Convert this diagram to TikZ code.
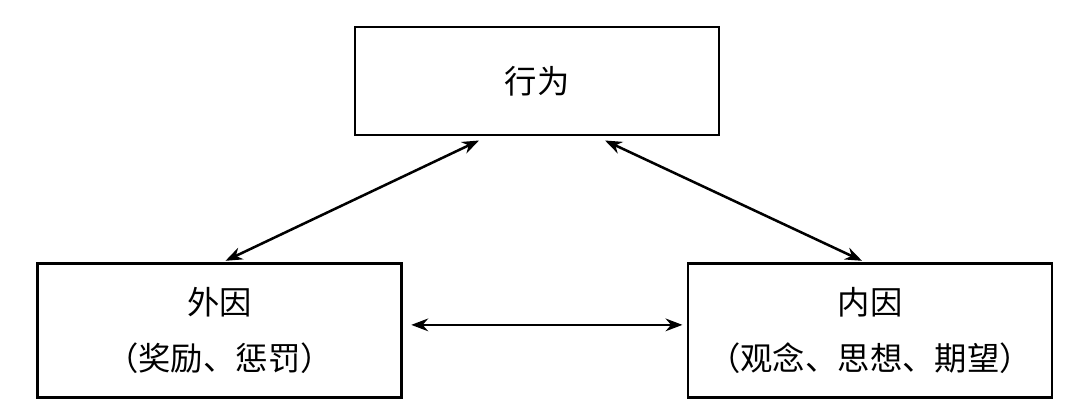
\documentclass[tikz,border=0pt]{standalone}
\usepackage{fontspec}
\setmainfont{Noto Sans CJK SC}
\usetikzlibrary{arrows.meta}
\begin{document}
\begin{tikzpicture}[x=0.025cm,y=-0.025cm,
  box/.style={draw,line width=1.8pt,minimum width=9.1cm,inner sep=0pt,align=center,font=\fontsize{23}{40}\selectfont},
  link/.style={{Stealth[length=12pt,width=9pt]}-{Stealth[length=12pt,width=9pt]},line width=1.8pt}]
\useasboundingbox (0,0) rectangle (1091,420);

\node[box,minimum height=2.7cm] (act) at (537,81) {行为};
\node[box,minimum height=3.35cm] (ext) at (219.5,330.5) {外因\\（奖励、惩罚）};
\node[box,minimum height=3.35cm] (int) at (870,330.5) {内因\\（观念、思想、期望）};

\draw[link] ([xshift=-1.45cm,yshift=-3pt]act.south) -- ([xshift=0.15cm,yshift=1pt]ext.north);
\draw[link] ([xshift=1.7cm,yshift=-3pt]act.south) -- ([xshift=-0.2cm,yshift=1pt]int.north);
\draw[link] ([xshift=6pt,yshift=4pt]ext.east) -- ([xshift=-3pt,yshift=4pt]int.west);
\end{tikzpicture}
\end{document}
